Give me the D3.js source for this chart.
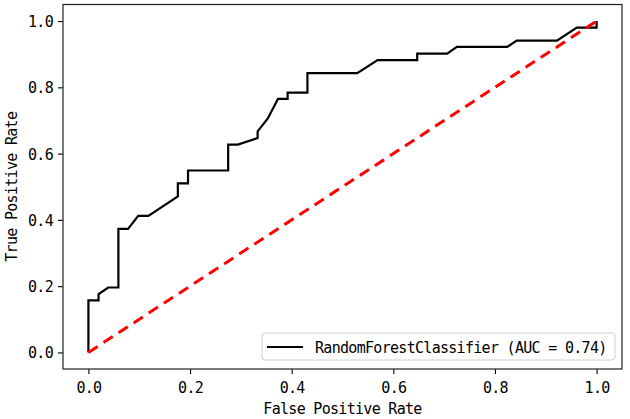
<!DOCTYPE html>
<html><head><meta charset="utf-8">
<script src="https://cdn.jsdelivr.net/npm/d3@7/dist/d3.min.js"></script>
<style>
body{margin:0;background:#fff;}
text{font-family:"DejaVu Sans Mono",monospace;font-size:15px;letter-spacing:-0.7px;fill:#000;}
</style></head><body>
<svg id="c" width="630" height="419"></svg>
<script>
const fpr = [0,0,0.020,0.020,0.039,0.059,0.059,0.078,0.098,0.118,0.176,0.176,0.196,0.196,0.275,0.275,0.294,0.333,0.333,0.353,0.373,0.392,0.392,0.431,0.431,0.529,0.569,0.647,0.647,0.706,0.725,0.824,0.843,0.922,0.961,1.0,1.0];
const tpr = [0,0.157,0.157,0.176,0.196,0.196,0.373,0.373,0.412,0.412,0.471,0.510,0.510,0.549,0.549,0.627,0.627,0.647,0.667,0.706,0.765,0.765,0.784,0.784,0.843,0.843,0.882,0.882,0.902,0.902,0.922,0.922,0.941,0.941,0.980,0.980,1.0];
const chanceX = [0,1];
const chanceY = [0,1];
const xTicks = [0,0.2,0.4,0.6,0.8,1.0];
const yTicks = [0,0.2,0.4,0.6,0.8,1.0];
const legendLabel = "RandomForestClassifier (AUC = 0.74)";
const xLabel = "False Positive Rate";
const yLabel = "True Positive Rate";

const svg = d3.select("#c");
const L=63, R=622, T=4.5, B=369;
const x = d3.scaleLinear().domain([-0.05,1.05]).range([L,R]);
const y = d3.scaleLinear().domain([-0.05,1.05]).range([B,T]);

const roc = fpr.map((v,i)=>[v,tpr[i]]);
const line = d3.line().x(d=>x(d[0])).y(d=>y(d[1]));

svg.append("path").datum(roc).attr("d",line)
  .attr("fill","none").attr("stroke","#000").attr("stroke-width",2.2).attr("stroke-linejoin","miter");
svg.append("path").datum(chanceX.map((v,i)=>[v,chanceY[i]])).attr("d",line)
  .attr("fill","none").attr("stroke","#ff0000").attr("stroke-width",3).attr("stroke-dasharray","11,7");

const fmt = d3.format(".1f");
const xa = svg.append("g").attr("transform",`translate(0,${B})`)
  .call(d3.axisBottom(x).tickValues(xTicks).tickFormat(fmt).tickSize(5).tickPadding(4));
const ya = svg.append("g").attr("transform",`translate(${L},0)`)
  .call(d3.axisLeft(y).tickValues(yTicks).tickFormat(fmt).tickSize(5).tickPadding(5));
[xa,ya].forEach(g=>{
  g.select(".domain").remove();
  g.selectAll(".tick line").attr("stroke","#000").attr("stroke-width",1.1);
  g.selectAll("text").attr("font-family",null).attr("font-size",null).style("fill","#000");
});
xa.selectAll("text").attr("dy",null).attr("y",24);
ya.selectAll("text").attr("dy","0.36em");

svg.append("rect").attr("x",L).attr("y",T).attr("width",R-L).attr("height",B-T)
  .attr("fill","none").attr("stroke","#222").attr("stroke-width",1.2);

svg.append("text").attr("x",(L+R)/2).attr("y",414).attr("text-anchor","middle").text(xLabel);
svg.append("text").attr("transform",`translate(17,${(T+B)/2}) rotate(-90)`).attr("text-anchor","middle").text(yLabel);

const lg = svg.append("g");
lg.append("rect").attr("x",262).attr("y",333).attr("width",353).attr("height",27).attr("rx",3)
  .attr("fill","#fff").attr("fill-opacity",0.8).attr("stroke","#d0d0d0").attr("stroke-width",1);
lg.append("line").attr("x1",267).attr("x2",303).attr("y1",347).attr("y2",347)
  .attr("stroke","#000").attr("stroke-width",2.2);
lg.append("text").attr("x",315).attr("y",353).text(legendLabel);
</script></body></html>
